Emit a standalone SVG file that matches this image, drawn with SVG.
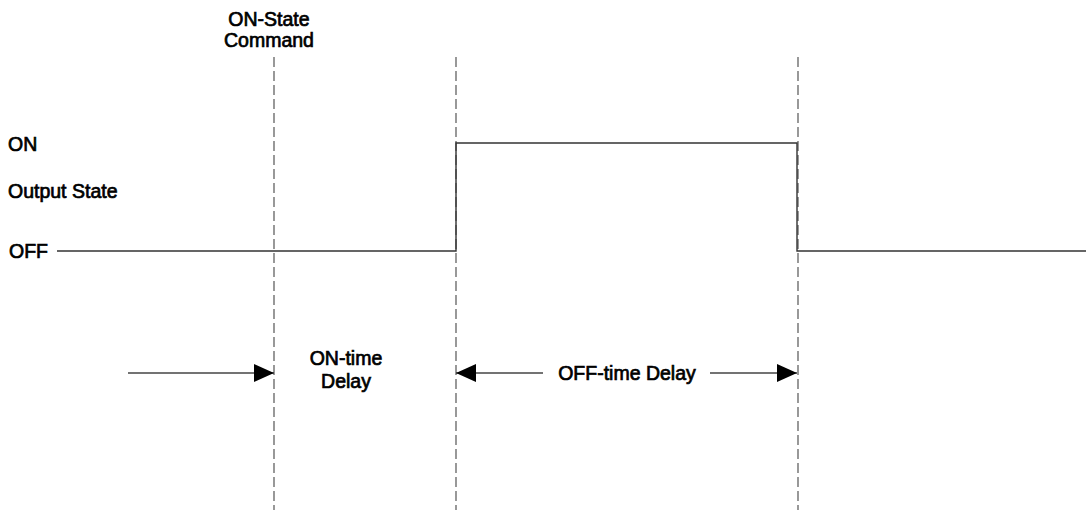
<svg xmlns="http://www.w3.org/2000/svg" width="1086" height="510" viewBox="0 0 1086 510">
<style>
.t{font-family:"Liberation Sans",Arial,sans-serif;font-size:19.5px;fill:#000;stroke:#000;stroke-width:0.7}
.m{text-anchor:middle}
.dash{stroke:#555;stroke-width:1.2;stroke-dasharray:10 4;fill:none}
.wave{stroke:#333;stroke-width:1.4;fill:none}
.arr{stroke:#444;stroke-width:1.4;fill:none}
</style>
<defs>
<marker id="ah" viewBox="0 0 20 18" refX="20" refY="9" markerWidth="20" markerHeight="18" markerUnits="userSpaceOnUse" orient="auto">
<path d="M0,0 L20,9 L0,18 Z" fill="#000"/>
</marker>
</defs>
<rect width="1086" height="510" fill="#fff"/>
<g id="gridlines">
<line class="dash" x1="274" y1="57" x2="274" y2="510"/>
<line class="dash" x1="456" y1="57" x2="456" y2="510"/>
<line class="dash" x1="798" y1="57" x2="798" y2="510"/>
</g>
<g id="waveform">
<polyline class="wave" points="57,251 456,251 456,143 797,143 797,251 1086,251"/>
</g>
<g id="labels">
<text class="t m" x="269" y="26">ON-State</text>
<text class="t m" x="269" y="47">Command</text>
<text class="t" x="8" y="151">ON</text>
<text class="t" x="8" y="198">Output State</text>
<text class="t" x="9" y="258">OFF</text>
</g>
<g id="on-time-delay">
<text class="t m" x="346" y="365">ON-time</text>
<text class="t m" x="346" y="388">Delay</text>
</g>
<g id="off-time-delay">
<text class="t m" x="627" y="380">OFF-time Delay</text>
</g>
<g id="connectors">
<line class="arr" x1="128" y1="373" x2="274" y2="373" marker-end="url(#ah)"/>
<line class="arr" x1="543" y1="373" x2="456" y2="373" marker-end="url(#ah)"/>
<line class="arr" x1="710" y1="373" x2="797" y2="373" marker-end="url(#ah)"/>
</g>
</svg>
